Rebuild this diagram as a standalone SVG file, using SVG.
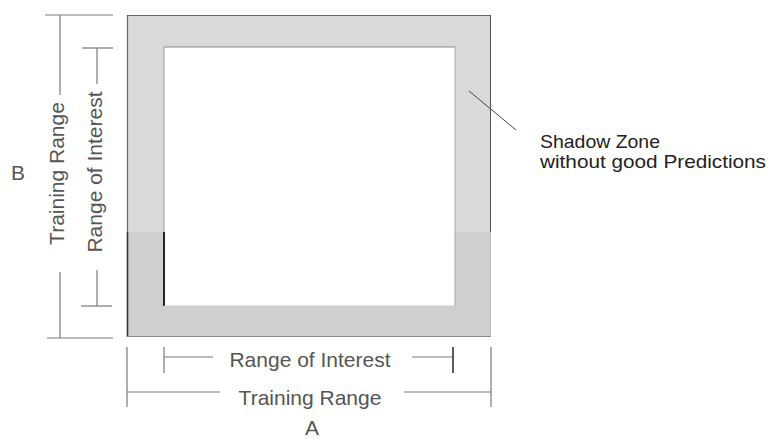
<svg xmlns="http://www.w3.org/2000/svg" width="771" height="439" viewBox="0 0 771 439">
<style>
.dim{stroke:#7a7a7a;stroke-width:1.2;fill:none}
.lbl{font-family:"Liberation Sans",Arial,sans-serif;font-size:21px;fill:#555}
.note{font-family:"Liberation Sans",Arial,sans-serif;font-size:18.5px;fill:#222}
</style>
<rect width="771" height="439" fill="#fff"/>
<g id="zone">
<rect x="127" y="15" width="364" height="322" fill="#d9d9d9"/>
<rect x="127" y="232" width="364" height="105" fill="#cfcfcf"/>
<rect x="164" y="47" width="291" height="259" fill="#fff"/>
<line x1="127" y1="15.5" x2="491" y2="15.5" stroke="#666" stroke-width="1"/>
<line x1="127.5" y1="15" x2="127.5" y2="232" stroke="#666" stroke-width="1.2"/>
<line x1="127.5" y1="232" x2="127.5" y2="337" stroke="#333" stroke-width="1.6"/>
<line x1="490.5" y1="15" x2="490.5" y2="232" stroke="#555" stroke-width="1"/>
<line x1="490.5" y1="232" x2="490.5" y2="337" stroke="#bbb" stroke-width="1"/>
<line x1="127" y1="336.5" x2="491" y2="336.5" stroke="#888" stroke-width="1"/>
<line x1="164" y1="47" x2="455" y2="47" stroke="#888" stroke-width="1.2"/>
<line x1="164" y1="47" x2="164" y2="232" stroke="#999" stroke-width="1"/>
<line x1="164" y1="232" x2="164" y2="306" stroke="#222" stroke-width="2"/>
<line x1="455" y1="47" x2="455" y2="306" stroke="#aaa" stroke-width="1"/>
<line x1="164" y1="306" x2="455" y2="306" stroke="#ccc" stroke-width="1"/>
</g>
<g id="connectors">
<line x1="469" y1="91" x2="516" y2="130" stroke="#444" stroke-width="1"/>
<line class="dim" x1="45" y1="15" x2="113" y2="15"/>
<line class="dim" x1="60" y1="15" x2="60" y2="95"/>
<line class="dim" x1="60" y1="272" x2="60" y2="338"/>
<line class="dim" x1="47" y1="338" x2="113" y2="338"/>
<line class="dim" x1="82" y1="48" x2="113" y2="48"/>
<line class="dim" x1="97" y1="48" x2="97" y2="84"/>
<line class="dim" x1="97" y1="270" x2="97" y2="306"/>
<line class="dim" x1="81" y1="306" x2="112" y2="306"/>
<line class="dim" x1="164" y1="347" x2="164" y2="373"/>
<line class="dim" x1="164" y1="357" x2="213" y2="357"/>
<line class="dim" x1="412" y1="357" x2="453" y2="357"/>
<line x1="453" y1="347" x2="453" y2="373" stroke="#333" stroke-width="1.6"/>
<line class="dim" x1="127" y1="347" x2="127" y2="407"/>
<line class="dim" x1="491" y1="347" x2="491" y2="407"/>
<line class="dim" x1="127" y1="392" x2="220" y2="392"/>
<line class="dim" x1="404" y1="392" x2="491" y2="392"/>
</g>
<g id="labels">
<text class="lbl" x="310" y="367" text-anchor="middle">Range of Interest</text>
<text class="lbl" x="310" y="405" text-anchor="middle">Training Range</text>
<text class="lbl" x="312" y="435" text-anchor="middle">A</text>
<text class="lbl" x="11" y="180" fill="#333">B</text>
<text class="lbl" transform="translate(64,173.5) rotate(-90)" text-anchor="middle">Training Range</text>
<text class="lbl" transform="translate(102,172) rotate(-90)" text-anchor="middle">Range of Interest</text>
<text class="note" x="540" y="148" textLength="120" lengthAdjust="spacingAndGlyphs">Shadow Zone</text>
<text class="note" x="540" y="168" textLength="226" lengthAdjust="spacingAndGlyphs">without good Predictions</text>
</g>
</svg>
